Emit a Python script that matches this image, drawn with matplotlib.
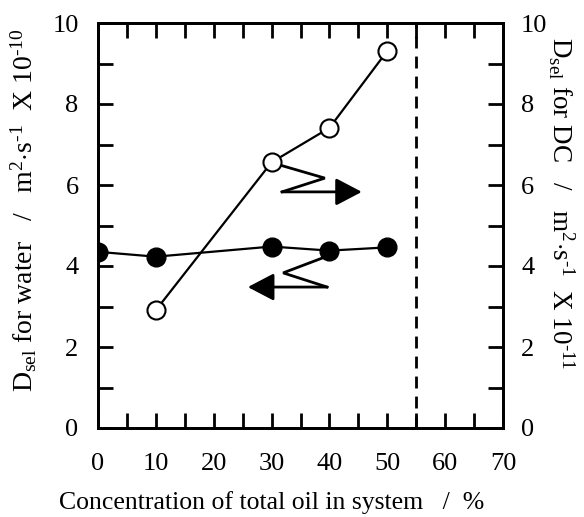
import matplotlib
matplotlib.use("Agg")
import matplotlib.pyplot as plt
from matplotlib.ticker import MultipleLocator

plt.rcParams['font.family'] = ['Liberation Serif', 'DejaVu Serif']
plt.rcParams['mathtext.fontset'] = 'custom'
plt.rcParams['mathtext.rm'] = 'Liberation Serif'
plt.rcParams['mathtext.it'] = 'Liberation Serif:italic'

# Self-diffusion coefficients vs. total oil concentration
oil_conc_water = [0, 10, 30, 40, 50]
d_water = [4.35, 4.23, 4.48, 4.38, 4.46]      # x 1e-10 m2/s (left axis)

oil_conc_dc = [10, 30, 40, 50]
d_dc = [2.91, 6.56, 7.41, 9.31]               # x 1e-11 m2/s (right axis)

phase_boundary = 55

W, H = 584, 517
fig = plt.figure(figsize=(W / 100, H / 100), dpi=100)
ax = fig.add_axes([98 / W, 1 - 428 / H, (503 - 98) / W, (428 - 23) / H])
ax2 = ax.twinx()

ax.plot(oil_conc_water, d_water, '-o', color='black', lw=1.6,
        markersize=13.5, markerfacecolor='black', markeredgecolor='black', zorder=3)
ax2.plot(oil_conc_dc, d_dc, '-o', color='black', lw=1.6,
         markersize=13, markerfacecolor='white', markeredgecolor='black',
         markeredgewidth=1.5, zorder=3)

ax.axvline(phase_boundary, color='black', lw=2, linestyle=(0, (4.3, 2.9)))

ax.set_xlim(0, 70)
ax.set_ylim(0, 10)
ax2.set_ylim(0, 10)

# Zigzag pointers indicating which axis each series belongs to
arrow_style = '-|>,head_length=0.8,head_width=0.42'
ax2.plot([31.5, 39.2, 31.8], [6.49, 6.17, 5.83], color='black', lw=2,
         solid_joinstyle='miter')
ax2.annotate('', xy=(45.6, 5.83), xytext=(31.8, 5.83),
             arrowprops=dict(arrowstyle=arrow_style, color='black', lw=2,
                             shrinkA=0, shrinkB=0, mutation_scale=20))
ax.plot([39.2, 32.0, 39.6], [4.22, 3.83, 3.48], color='black', lw=2,
        solid_joinstyle='miter')
ax.annotate('', xy=(25.9, 3.48), xytext=(39.6, 3.48),
            arrowprops=dict(arrowstyle=arrow_style, color='black', lw=2,
                            shrinkA=0, shrinkB=0, mutation_scale=20))

ax.xaxis.set_major_locator(MultipleLocator(10))
ax.xaxis.set_minor_locator(MultipleLocator(5))
ax.yaxis.set_major_locator(MultipleLocator(2))
ax.yaxis.set_minor_locator(MultipleLocator(1))
ax2.yaxis.set_major_locator(MultipleLocator(2))
ax2.yaxis.set_minor_locator(MultipleLocator(1))

for a in (ax, ax2):
    for s in a.spines.values():
        s.set_linewidth(2)

ax.tick_params(axis='x', which='both', direction='in', top=True, length=10.5,
               width=2, labelsize=19, pad=18)
ax.tick_params(axis='y', which='both', direction='in', length=10.5, width=2,
               labelsize=19, pad=14)
ax2.tick_params(axis='y', which='both', direction='in', length=10.5, width=2,
                labelsize=19, pad=13)

# Axis titles
fig.text(272 / W, 1 - 509 / H, 'Concentration of total oil in system   /  %',
         fontsize=18.5, ha='center', va='baseline')
fig.text(33 / W, 1 - 210 / H,
         'D$_{\\mathrm{sel}}$ for water   /   m$^{2}$$\\cdot$s$^{\\mathrm{‐1}}$  X 10$^{\\mathrm{‐10}}$',
         fontsize=20, rotation=90, rotation_mode='anchor', ha='center', va='baseline')
fig.text(552 / W, 1 - 203 / H,
         'D$_{\\mathrm{sel}}$ for DC   /   m$^{2}$$\\cdot$s$^{\\mathrm{‐1}}$  X 10$^{\\mathrm{‐11}}$',
         fontsize=19.5, rotation=270, rotation_mode='anchor', ha='center', va='baseline')

fig.savefig('out.png', dpi=100)
